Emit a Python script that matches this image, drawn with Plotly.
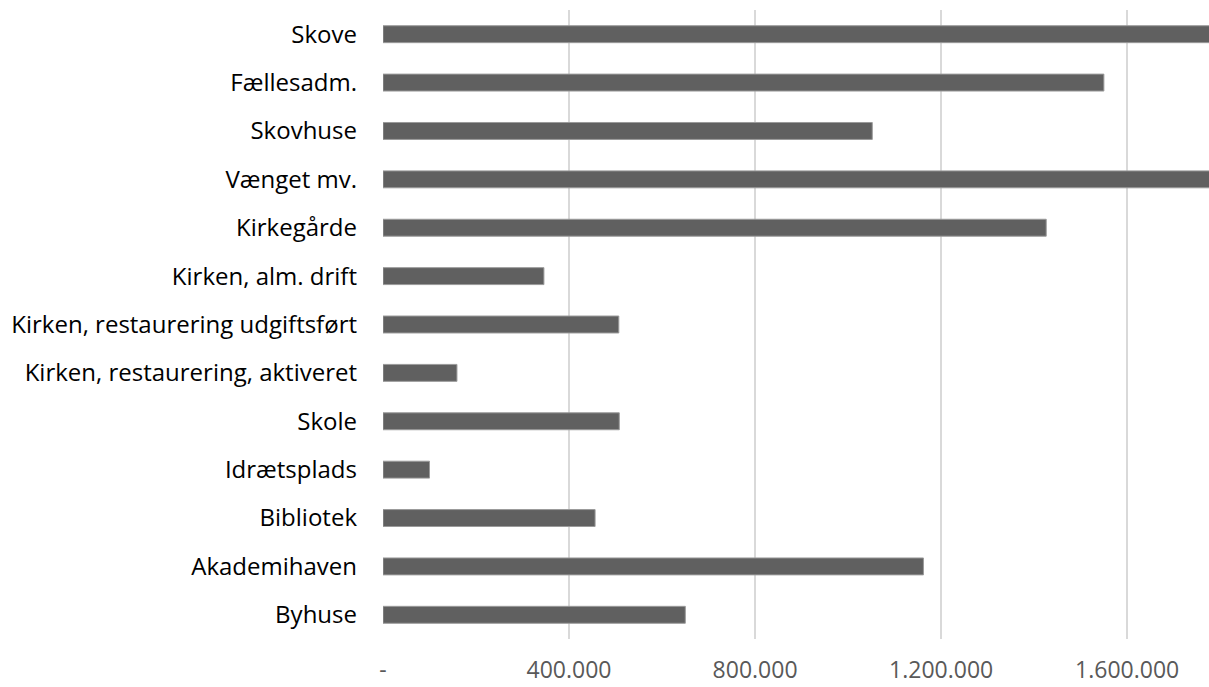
import plotly.graph_objects as go

categories = ["Skove", "Fællesadm.", "Skovhuse", "Vænget mv.", "Kirkegårde",
              "Kirken, alm. drift", "Kirken, restaurering udgiftsført",
              "Kirken, restaurering, aktiveret", "Skole", "Idrætsplads",
              "Bibliotek", "Akademihaven", "Byhuse"]
values = [1900000, 1550000, 1052000, 1900000, 1426000,
          346000, 507000, 159000, 508000, 100000,
          456000, 1162000, 650000]
tick_vals = [0, 400000, 800000, 1200000, 1600000]
tick_text = ["-", "400.000", "800.000", "1.200.000", "1.600.000"]

fig = go.Figure(go.Bar(
    x=values, y=categories, orientation="h",
    marker=dict(color="#606060", line=dict(color="#9a9a9a", width=1)),
    hoverinfo="skip",
))

fig.update_layout(
    width=1209, height=687,
    margin=dict(l=383, r=0, t=10, b=48),
    paper_bgcolor="white", plot_bgcolor="white",
    bargap=0.65,
    showlegend=False,
    font=dict(family="Open Sans", color="#000000"),
)
fig.update_xaxes(
    range=[0, 1776000], tickvals=tick_vals, ticktext=tick_text,
    showgrid=True, gridcolor="#d9d9d9", gridwidth=2,
    zeroline=False, showline=False, ticks="",
    tickfont=dict(family="Open Sans", size=23, color="#595959"),
    ticklabelstandoff=15, automargin=False,
)
fig.update_yaxes(
    autorange="reversed", showgrid=False, zeroline=False, showline=False, ticks="",
    tickfont=dict(family="Open Sans", size=24, color="#000000"),
    ticklabelstandoff=25, automargin=False,
)

fig.write_html("out.html")
